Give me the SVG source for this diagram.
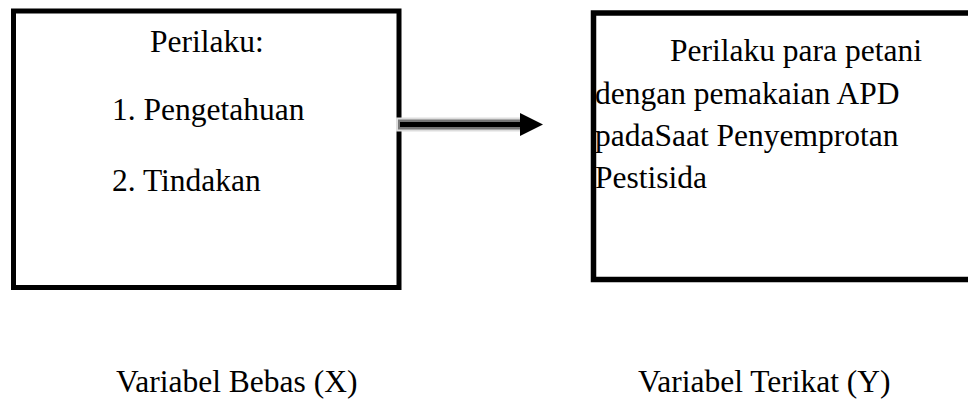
<svg xmlns="http://www.w3.org/2000/svg" width="968" height="401" viewBox="0 0 968 401">
<style>
.box{fill:#fff;stroke:#000;stroke-width:5}
.t{font-family:"Liberation Serif","Times New Roman",serif;font-size:31.5px;fill:#000}
</style>
<rect width="968" height="401" fill="#fff"/>
<g id="node-x">
<rect class="box" x="13.5" y="11" width="385.5" height="276.5"/>
<text class="t" x="150" y="52">Perilaku:</text>
<text class="t" x="112" y="120">1. Pengetahuan</text>
<text class="t" x="112" y="191">2. Tindakan</text>
</g>
<g id="node-y">
<rect class="box" x="593.5" y="13" width="390" height="266.5" style="stroke-width:5.5"/>
<text class="t" x="670" y="61">Perilaku para petani</text>
<text class="t" x="595" y="104">dengan pemakaian APD</text>
<text class="t" x="595" y="146">padaSaat Penyemprotan</text>
<text class="t" x="595" y="188">Pestisida</text>
</g>
<g id="labels">
<text class="t" x="116" y="392">Variabel Bebas (X)</text>
<text class="t" x="638" y="392">Variabel Terikat (Y)</text>
</g>
<g id="connectors">
<line x1="396" y1="124.5" x2="524" y2="124.5" stroke="#ddd" stroke-width="14"/>
<line x1="398" y1="124.5" x2="524" y2="124.5" stroke="#777" stroke-width="10"/>
<line x1="400" y1="124.5" x2="524" y2="124.5" stroke="#000" stroke-width="5"/>
<polygon points="520,113 543,124.5 520,136" fill="#000"/>
</g>
</svg>
